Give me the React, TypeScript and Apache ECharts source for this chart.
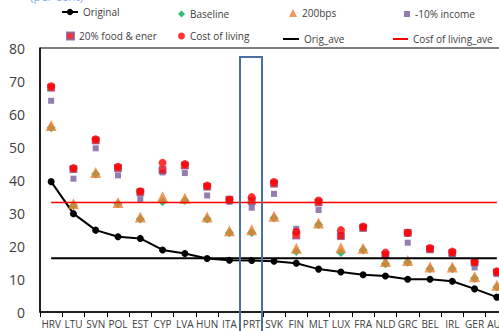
import React, { useEffect, useRef } from "react";
import * as echarts from "echarts";

const categories = ["HRV","LTU","SVN","POL","EST","CYP","LVA","HUN","ITA","PRT","SVK","FIN","MLT","LUX","FRA","NLD","GRC","BEL","IRL","GER","AUT"];
const original = [39.5, 29.8, 24.8, 22.8, 22.3, 18.8, 17.7, 16.2, 15.7, 15.6, 15.4, 14.8, 13.0, 12.1, 11.3, 10.9, 9.9, 9.9, 9.3, 7.0, 4.5];
const baseline = [55.8, 32.3, 41.8, 32.8, 28.2, 33.4, 33.8, 28.2, 24.0, 24.1, 28.5, 18.3, 26.5, 18.0, 18.8, 14.6, 15.1, 13.1, 13.1, 10.2, 7.6];
const bps200 = [56.5, 32.8, 42.3, 33.2, 28.8, 34.9, 34.5, 28.8, 24.6, 24.9, 29.0, 19.3, 27.0, 19.5, 19.3, 15.3, 15.6, 13.6, 13.6, 10.7, 8.1];
const income = [64.0, 40.4, 49.6, 41.4, 34.2, 42.3, 42.1, 35.3, 33.4, 31.6, 35.8, 25.2, 30.9, 23.0, 25.4, 17.0, 21.0, 19.0, 17.6, 13.5, 11.5];
const food = [68.0, 43.3, 52.0, 43.6, 36.3, 43.0, 44.4, 38.0, 34.0, 33.6, 38.9, 23.2, 33.2, 23.0, 25.5, 17.3, 24.0, 19.0, 17.9, 15.0, 12.0];
const living = [68.4, 43.6, 52.3, 44.0, 36.6, 45.2, 44.8, 38.3, 34.1, 34.8, 39.4, 24.3, 33.8, 24.8, 25.9, 18.0, 24.0, 19.4, 18.3, 15.2, 12.3];
const origAve = 16.3;
const livingAve = 33.2;
const yTicks = { min: 0, max: 80, interval: 10 };

const FONT = "'Open Sans', 'Noto Sans', sans-serif";
const TXT = "#404040";

export default function App() {
  const ref = useRef<HTMLDivElement>(null);
  useEffect(() => {
    if (!ref.current) return;
    const chart = echarts.init(ref.current, null, { renderer: "svg" });
    const legendText = { fontSize: 10, color: TXT, fontFamily: FONT };
    const mkLegend = (name: string, left: number, top: number, w: number, h: number, icon?: string) => ({
      data: [icon ? { name, icon } : name], left, top, itemWidth: w, itemHeight: h, itemGap: 0, padding: 0,
      textStyle: legendText, selectedMode: false,
    });
    chart.setOption({
      animation: false,
      backgroundColor: "#fff",
      textStyle: { fontFamily: FONT },
      legend: [
        mkLegend("Original", 61, 7, 16, 8),
        mkLegend("Baseline", 178, 9, 7, 7),
        mkLegend("200bps", 289, 8, 8, 8),
        mkLegend("-10% income", 404, 9, 6, 6),
        mkLegend("20% food & ener", 66, 31, 7, 7),
        mkLegend("Cost of living", 178, 31, 7, 7),
        mkLegend("Orig_ave", 283, 34, 16, 2, "rect"),
        mkLegend("Cosf of living_ave", 393, 34, 15, 2, "rect"),
      ],
      graphic: [
        { type: "text", left: 30, top: -10, style: { text: "(per cent)", fontSize: 12, fill: "#8db3e2", fontFamily: FONT } },
        { type: "rect", shape: { x: 240, y: 57, width: 22, height: 290 }, style: { fill: "none", stroke: "#4a6fa5", lineWidth: 2 }, z: 100 },
      ],
      grid: { left: 40, top: 48, bottom: 19, right: 2, show: true, borderColor: "#000", borderWidth: 1, backgroundColor: "transparent" },
      xAxis: {
        type: "category",
        data: categories,
        boundaryGap: true,
        axisLine: { lineStyle: { color: "#000", width: 1.5 } },
        axisTick: { show: true, length: 5, lineStyle: { color: "#000" } },
        axisLabel: { fontSize: 10, color: TXT, margin: 7, interval: 0, fontFamily: FONT },
        splitLine: { show: false },
      },
      yAxis: {
        type: "value",
        min: yTicks.min, max: yTicks.max, interval: yTicks.interval,
        axisLine: { show: true, lineStyle: { color: "#000", width: 1.5 } },
        axisTick: { show: false },
        axisLabel: { fontSize: 14, color: TXT, margin: 15, fontFamily: FONT },
        splitLine: { show: false },
      },
      series: [
        { name: "Original", type: "line", data: original, symbol: "circle", symbolSize: 7, itemStyle: { color: "#000" }, lineStyle: { color: "#000", width: 2 }, z: 3 },
        { name: "Baseline", type: "scatter", data: baseline, symbol: "diamond", symbolSize: 9, itemStyle: { color: "#00b050" }, z: 4 },
        { name: "200bps", type: "scatter", data: bps200, symbol: "triangle", symbolSize: 11, itemStyle: { color: "#ed7d31" }, z: 5 },
        { name: "-10% income", type: "scatter", data: income, symbol: "rect", symbolSize: 6, itemStyle: { color: "#7a5c9a" }, z: 6 },
        { name: "20% food & ener", type: "scatter", data: food, symbol: "rect", symbolSize: 7, itemStyle: { color: "#ff0000", borderColor: "#7a5c9a", borderWidth: 1 }, z: 7 },
        { name: "Cost of living", type: "scatter", data: living, symbol: "circle", symbolSize: 8, itemStyle: { color: "#ff0000" }, z: 8 },
        { name: "Orig_ave", type: "line", data: categories.map(() => origAve), symbol: "none", lineStyle: { color: "#000", width: 2 }, itemStyle: { color: "#000" }, z: 9 },
        { name: "Cosf of living_ave", type: "line", data: categories.map(() => livingAve), symbol: "none", lineStyle: { color: "#ff0000", width: 1.5 }, itemStyle: { color: "#ff0000" }, z: 9 },
      ],
    });
    return () => chart.dispose();
  }, []);
  return (
    <div style={{ position: "fixed", left: 0, top: 0, width: 499, height: 331, overflow: "hidden", background: "#fff" }}>
      <div ref={ref} style={{ width: 510, height: 331 }} />
    </div>
  );
}
